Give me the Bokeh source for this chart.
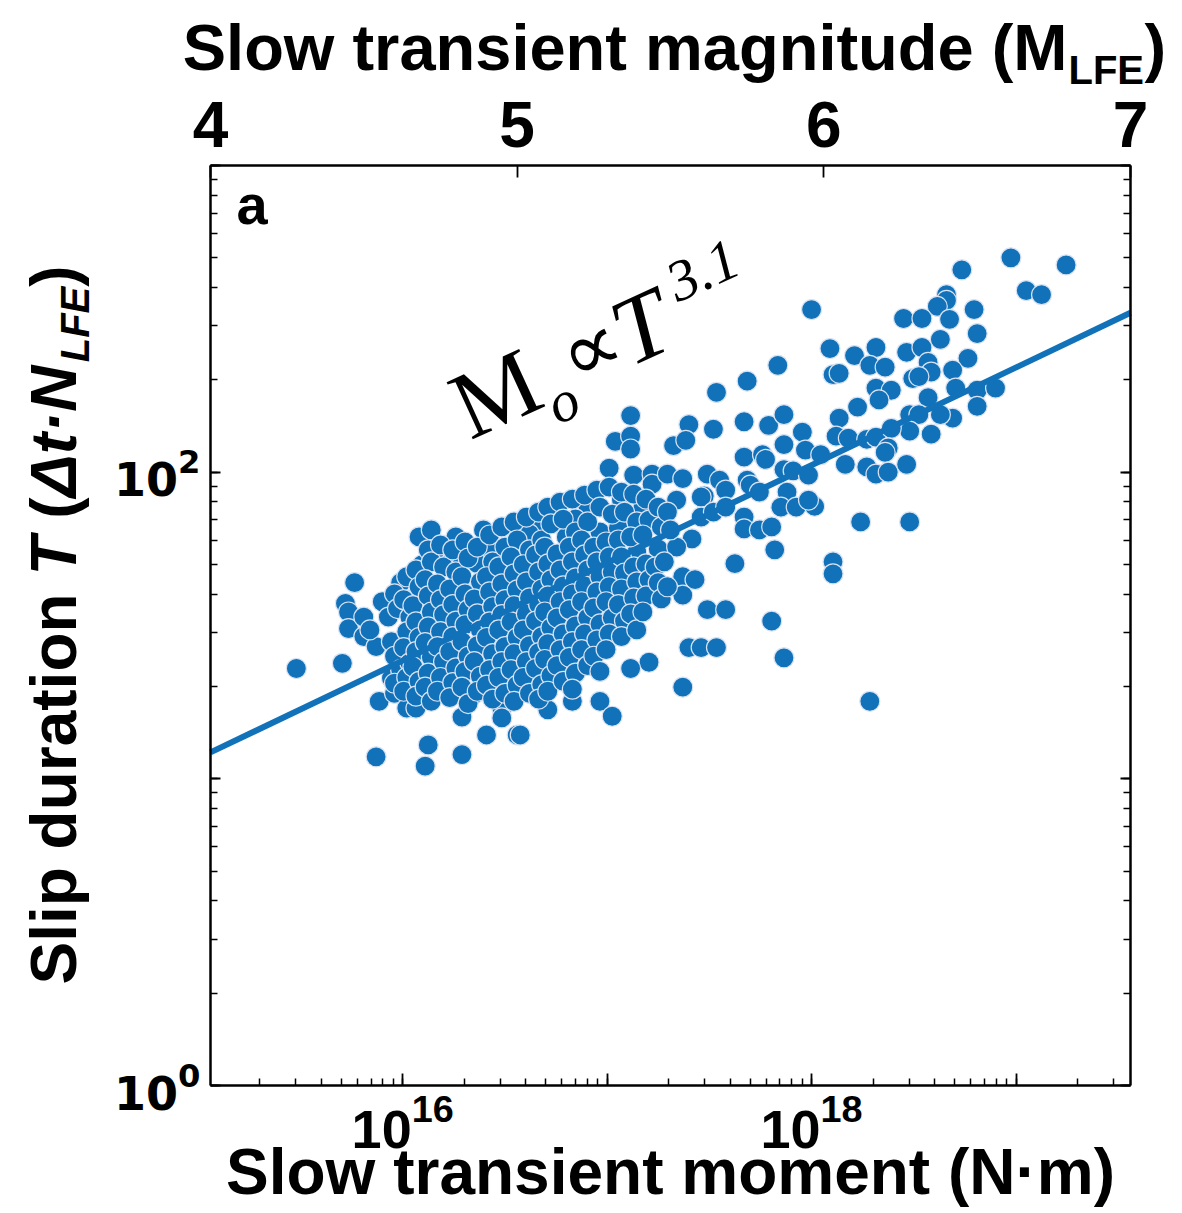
import math
import numpy as np
from bokeh.plotting import figure
from bokeh.models import (Range1d, LinearAxis, LogAxis, LogTicker, FixedTicker,
                          LinearScale, Label, CustomJSTickFormatter, ColumnDataSource)
from bokeh.embed import file_html
from bokeh.resources import INLINE

# ---------------- data ----------------
# magnitude M_LFE (top axis) and slip duration T
mw_left = [4.28, 4.43, 4.47, 4.44, 4.45, 4.45, 4.50, 4.50, 4.54, 4.52,
           4.56, 4.58, 4.62, 4.55, 4.60, 4.59, 4.64, 4.67, 4.54, 4.71,
           4.70, 4.82, 4.82, 4.90, 5.00, 4.95, 4.95, 4.86, 4.68, 4.72,
           4.80, 4.89, 4.91, 4.68, 4.69, 4.66, 4.76, 4.79, 4.82, 4.87,
           5.03, 5.05]
t_left = [22.9, 23.8, 43.6, 37.3, 35.0, 30.9, 33.7, 29.1, 27.0, 30.6,
          37.8, 33.7, 43.6, 17.9, 19.0, 21.3, 17.0, 17.0, 11.8, 12.9,
          11.0, 12.0, 15.9, 13.9, 13.9, 17.0, 15.8, 18.9, 61.5, 64.8,
          61.5, 64.8, 56.2, 46.2, 49.9, 38.6, 54.9, 52.1, 49.9, 50.3,
          63.8, 65.3]

mw_mid = [5.37, 5.32, 5.37, 5.37, 5.56, 5.64, 5.51, 5.55, 5.30, 5.38,
          5.44, 5.44, 5.49, 5.54, 5.62, 5.66, 5.68, 5.61, 5.52, 5.74,
          5.82, 5.87, 5.74, 5.80, 5.87, 5.75, 5.76, 5.88, 5.86, 5.91,
          5.74, 5.74, 5.79, 5.83, 5.84, 5.71, 5.57, 5.54, 5.58, 5.54,
          5.62, 5.68, 5.83, 5.56, 5.60, 5.65, 5.87, 5.54, 5.43, 5.37,
          5.27, 5.31, 5.18, 5.10, 5.01, 5.65, 5.23, 5.34, 5.41, 5.19,
          5.16, 5.06, 5.04, 5.27, 5.33, 5.39, 5.46, 5.52, 5.60,
          5.60, 5.64, 5.68, 5.79, 5.75]
t_mid = [153, 126, 131, 119, 143, 138, 122, 127, 103, 97.8,
         98.5, 91.4, 98.5, 95.3, 98.5, 94.2, 87.4, 83.6, 81.1, 146,
         142, 154, 112, 114, 123, 94.2, 90.7, 86.1, 76.9, 76.9,
         71.4, 65.3, 64.8, 66.3, 55.8, 50.3, 60.6, 45.6, 44.6, 39.7,
         35.6, 35.6, 32.7, 26.8, 26.8, 26.8, 24.8, 19.9, 24.0, 22.9,
         17.9, 16.0, 17.9, 16.8, 13.9, 182, 78.0, 81.1, 76.9, 70.4,
         61.5, 67.4, 62.9, 63.8, 65.8, 54.9, 56.2, 57.0, 83.0,
         71.4, 74.1, 76.9, 86.1, 198]

mw_upper = [5.96, 5.85, 6.61, 6.79, 6.45, 6.66, 6.71, 6.40, 6.40, 6.37,
            6.49, 6.26, 6.32, 6.41, 6.50, 6.38, 6.02, 6.10, 6.17, 6.15,
            6.20, 6.27, 6.32, 6.34, 6.35, 6.47, 6.03, 6.05, 6.29, 6.31,
            6.42, 6.17, 6.22, 6.18, 6.43, 6.34, 6.50, 6.56, 6.50, 6.11,
            6.05, 6.28, 6.31, 6.42, 6.38, 5.93, 6.04, 6.08, 6.14, 6.17,
            6.28, 6.35, 6.22, 5.81, 5.94, 5.99, 6.21, 6.20, 6.07, 6.14,
            6.17, 6.21, 6.27, 5.87, 5.90, 5.95, 5.97, 5.95, 6.12, 6.28,
            6.03, 6.03, 6.15]
t_upper = [339, 223, 500, 474, 457, 391, 379, 379, 363, 347,
           339, 317, 317, 315, 283, 271, 253, 240, 255, 223,
           220, 246, 255, 228, 212, 235, 208, 210, 202, 205,
           215, 188, 185, 172, 188, 175, 185, 188, 164, 163,
           150, 154, 154, 150, 154, 135, 131, 129, 128, 130,
           136, 133, 139, 110, 118, 114, 120, 116, 106, 104,
           98.5, 100, 106, 102, 101, 97.8, 77.4, 81.1, 68.8, 68.8,
           51.0, 46.6, 17.9]

mw_core = [4.60, 4.61, 4.59, 4.60, 4.62, 4.60,
           4.64, 4.63, 4.65, 4.64, 4.63, 4.65, 4.64, 4.63,
           4.67, 4.68, 4.66, 4.67, 4.68, 4.67, 4.66, 4.68, 4.67,
           4.71, 4.72, 4.70, 4.71, 4.72, 4.71, 4.70, 4.72, 4.71, 4.70, 4.72,
           4.75, 4.76, 4.74, 4.75, 4.76, 4.75, 4.74, 4.76, 4.75, 4.74,
           4.79, 4.80, 4.78, 4.79, 4.80, 4.79, 4.78, 4.80, 4.79, 4.78,
           4.83, 4.84, 4.82, 4.83, 4.84, 4.83, 4.82, 4.84, 4.83, 4.82, 4.84,
           4.87, 4.88, 4.86, 4.87, 4.88, 4.87, 4.86, 4.88, 4.87,
           4.91, 4.92, 4.90, 4.91, 4.92, 4.91, 4.90, 4.92, 4.91, 4.90, 4.92,
           4.95, 4.96, 4.94, 4.95, 4.96, 4.95, 4.94, 4.96, 4.95, 4.94, 4.96,
           4.99, 5.00, 4.98, 4.99, 5.00, 4.99, 4.98, 5.00, 4.99, 4.98, 5.00, 4.99,
           5.03, 5.04, 5.02, 5.03, 5.04, 5.03, 5.02, 5.04, 5.03, 5.02, 5.04,
           5.07, 5.08, 5.06, 5.07, 5.08, 5.07, 5.06, 5.08, 5.07, 5.06, 5.08, 5.07,
           5.10, 5.11, 5.09, 5.10, 5.11, 5.10, 5.09, 5.11, 5.10, 5.09, 5.11, 5.10,
           5.14, 5.15, 5.13, 5.14, 5.15, 5.14, 5.13, 5.15, 5.14, 5.13, 5.15,
           5.18, 5.19, 5.17, 5.18, 5.19, 5.18, 5.17, 5.19, 5.18, 5.17, 5.19, 5.18,
           5.22, 5.23, 5.21, 5.22, 5.23, 5.22, 5.21, 5.23, 5.22, 5.21, 5.23,
           5.26, 5.27, 5.25, 5.26, 5.27, 5.26, 5.25, 5.27, 5.26, 5.25, 5.27,
           5.30, 5.31, 5.29, 5.30, 5.31, 5.30, 5.29, 5.31, 5.30, 5.29,
           5.34, 5.35, 5.33, 5.34, 5.35, 5.34, 5.33, 5.35, 5.34,
           5.38, 5.39, 5.37, 5.38, 5.39, 5.38, 5.37, 5.39,
           5.42, 5.43, 5.41, 5.42, 5.43, 5.42, 5.41,
           5.46, 5.47, 5.45, 5.46, 5.47,
           5.49, 5.50, 5.48, 5.49]
t_core = [40.1, 35.9, 28.0, 25.1, 22.7, 20.5,
          45.6, 38.4, 33.7, 30.2, 26.8, 23.9, 21.4, 19.3,
          48.0, 42.3, 36.7, 32.5, 28.9, 26.0, 23.2, 20.8, 18.6,
          55.8, 51.0, 44.6, 39.5, 35.0, 31.3, 27.8, 24.9, 22.1, 19.9, 17.9,
          57.9, 49.1, 43.2, 38.4, 34.3, 30.2, 27.0, 24.1, 21.4, 19.3,
          55.8, 47.3, 41.6, 37.0, 32.7, 29.1, 26.0, 23.0, 20.6, 18.4,
          59.2, 52.5, 45.6, 40.1, 35.6, 31.8, 28.0, 25.1, 22.4, 19.9, 17.6,
          57.0, 43.9, 38.6, 34.5, 30.6, 27.2, 24.1, 21.6, 19.3,
          62.4, 51.0, 45.6, 40.7, 36.4, 32.5, 28.9, 25.6, 22.7, 20.2, 18.2,
          66.3, 57.0, 49.1, 43.2, 38.4, 34.3, 30.6, 27.0, 24.1, 21.4, 19.0,
          68.8, 60.1, 52.9, 46.6, 41.3, 36.7, 32.5, 28.9, 25.6, 22.7, 20.2, 17.9,
          71.4, 55.8, 49.9, 43.9, 38.9, 34.5, 30.6, 27.2, 24.1, 21.4, 19.0,
          74.1, 60.1, 53.7, 47.3, 41.6, 37.0, 32.7, 29.1, 25.8, 22.9, 20.3, 18.2,
          76.9, 67.8, 57.0, 50.2, 44.6, 39.5, 35.0, 31.1, 27.6, 24.5, 21.7, 19.3,
          79.9, 70.3, 54.1, 48.0, 42.6, 37.8, 33.5, 29.7, 26.4, 23.4, 20.8,
          81.7, 63.8, 57.0, 51.0, 45.2, 40.1, 35.6, 31.5, 28.0, 24.9, 22.1, 19.6,
          84.2, 68.8, 60.1, 53.7, 48.0, 42.6, 37.8, 33.5, 29.7, 26.4, 23.4,
          87.4, 76.9, 57.0, 51.0, 45.6, 40.7, 36.1, 32.0, 28.4, 25.1, 22.4,
          89.4, 73.0, 59.2, 52.9, 47.3, 42.3, 37.8, 33.5, 29.7, 26.4,
          86.1, 74.1, 60.1, 52.9, 46.9, 41.6, 37.0, 32.7, 29.1,
          84.8, 68.8, 61.5, 49.1, 43.9, 38.9, 34.5, 30.6,
          81.7, 69.8, 62.4, 50.2, 44.6, 39.5, 35.0,
          76.9, 66.3, 49.1, 43.6, 38.6,
          74.1, 64.8, 51.0, 42.3]

# fitted trend  M0 ~ T^3.1 (duration at the two frame edges)
fit_mw = [4.0, 7.0]
fit_t = [12.2, 331.0]

mag_range = [4.0, 7.0]        # top axis
dur_range = [1.0, 1000.0]     # left axis
MW_OFFSET = 9.06              # log10(M0) = 1.5*M + 9.06


def to_moment(m):
    return 10 ** (1.5 * np.asarray(m, dtype=float) + MW_OFFSET)


mw_all = mw_left + mw_mid + mw_upper + mw_core
t_all = t_left + t_mid + t_upper + t_core
src = ColumnDataSource(dict(moment=to_moment(mw_all), duration=t_all))

# ---------------- layout (canvas pixels) ----------------
W, H = 1180, 1210
BOX_L, BOX_R, BOX_T, BOX_B = 210, 1130, 165, 1085
x0, x1 = [float(v) for v in to_moment(mag_range)]
lx0, lx1 = math.log10(x0), math.log10(x1)
ly0, ly1 = math.log10(dur_range[0]), math.log10(dur_range[1])
dx = (BOX_R - BOX_L) / (lx1 - lx0)
dy = (BOX_B - BOX_T) / (ly1 - ly0)
xr = Range1d(10 ** (lx0 - BOX_L / dx), 10 ** (lx1 + (W - BOX_R) / dx))
yr = Range1d(10 ** (ly0 - (H - BOX_B) / dy), 10 ** (ly1 + BOX_T / dy))
dm = (BOX_R - BOX_L) / (mag_range[1] - mag_range[0])
mr = Range1d(mag_range[0] - BOX_L / dm, mag_range[1] + (W - BOX_R) / dm)

BLUE = "#1272b9"
FONT = "Liberation Sans"

p = figure(width=W, height=H, x_axis_type="log", y_axis_type="log",
           x_axis_location=None, y_axis_location=None,
           x_range=xr, y_range=yr, output_backend="svg", toolbar_location=None,
           min_border=0)
p.title.visible = False
p.background_fill_color = "white"
p.border_fill_color = "white"
p.outline_line_color = None
p.xgrid.visible = False
p.ygrid.visible = False

blank = CustomJSTickFormatter(code="return ''")


def style_axis(ax, major=12, minor=7):
    ax.axis_line_color = "black"
    ax.axis_line_width = 2.5
    ax.major_tick_in = major
    ax.major_tick_out = 0
    ax.minor_tick_in = minor
    ax.minor_tick_out = 0
    ax.major_tick_line_color = "black"
    ax.major_tick_line_width = 1.8
    ax.minor_tick_line_color = "black"
    ax.minor_tick_line_width = 1.5
    ax.major_label_text_color = "black"
    ax.major_label_text_font_style = "bold"


bottom = LogAxis(ticker=LogTicker(desired_num_ticks=6, num_minor_ticks=10),
                 fixed_location=dur_range[0], bounds=(x0, x1),
                 major_label_overrides={1e15: "", 1e17: "", 1e19: ""})
style_axis(bottom)
bottom.major_label_text_font = FONT
bottom.major_label_text_font_size = "54px"
bottom.major_label_standoff = 8
p.add_layout(bottom, "below")

left = LogAxis(ticker=LogTicker(desired_num_ticks=4, num_minor_ticks=10),
               fixed_location=x0, bounds=tuple(dur_range),
               major_label_overrides={10.0: "", 1000.0: ""})
style_axis(left, major=10, minor=7)
left.major_label_text_font = "DejaVu Sans"
left.major_label_text_font_size = "46px"
left.major_label_standoff = 10
p.add_layout(left, "left")

right = LogAxis(ticker=LogTicker(desired_num_ticks=4, num_minor_ticks=10),
                fixed_location=x1, bounds=tuple(dur_range), formatter=blank)
style_axis(right, major=10, minor=7)
p.add_layout(right, "right")

p.extra_x_ranges = {"mw": mr}
p.extra_x_scales = {"mw": LinearScale()}
top = LinearAxis(x_range_name="mw", ticker=FixedTicker(ticks=[4, 5, 6, 7]),
                 fixed_location=dur_range[1], bounds=tuple(mag_range))
style_axis(top, major=12, minor=0)
top.minor_tick_line_color = None
top.major_label_text_font = FONT
top.major_label_text_font_size = "64px"
top.major_label_standoff = 19
p.add_layout(top, "above")

# scatter + fit line
p.scatter("moment", "duration", source=src, size=20, fill_color=BLUE,
          line_color="#d9e3f3", line_width=1.2)
p.line(to_moment(fit_mw), fit_t, line_color=BLUE, line_width=6)

BASE_FIX = 0.385   # lift so that the requested point is the glyph baseline


def lab(text, x, y, xo, yo, size, font=FONT, style="bold", align="left", angle=0.0):
    up = BASE_FIX * size
    xo = xo - up * math.sin(angle)
    yo = yo + up * math.cos(angle)
    p.add_layout(Label(x=x, y=y, x_offset=xo, y_offset=yo, text=text,
                       text_font=font, text_font_style=style,
                       text_font_size=f"{size}px", text_align=align,
                       text_baseline="alphabetic", angle=angle, text_color="black"))


YB, YT = dur_range
XMID = math.sqrt(x0 * x1)

# bottom axis title
lab("Slow transient moment (N\u00b7m)", XMID, YB, 0, -111, 64, align="center")

# top axis title with subscript
lab("Slow transient magnitude (M", x0, YT, 857, 93, 65, align="right")
lab("LFE", x0, YT, 858, 80, 40)
lab(")", x0, YT, 934, 93, 65)

# left axis title (rotated), composed of pieces
F = 64
pieces = [("Slip duration", "bold", F, (6.112 + 0.278) * F, 0),
          ("T", "bold italic", F, (0.611 + 0.278) * F, 0),
          ("(", "bold", F, 0.333 * F, 0),
          ("\u0394t\u00b7N", "bold italic", F, 2.110 * F, 0),
          ("LFE", "bold italic", 40, 1.889 * 40, 12),
          (")", "bold", F, 0.333 * F, 0)]
pos = 101
for txt, sty, sz, w, sub in pieces:
    lab(txt, x0, YB, -132 + sub, pos, sz, style=sty, angle=math.pi / 2)
    pos += w

# panel letter
lab("a", x0, YT, 26, -61, 56)

# annotation  M_o ∝ T^3.1, rotated along the trend
ANG = math.radians(24.6)
ax_, ay_ = float(to_moment(4.853)), 123.0
ann = [("M", 96, "normal", 0, 0),
       ("o", 58, "italic", 86, -21),
       ("\u221d", 84, "normal", 118, 6),
       ("T", 96, "italic", 176, 0),
       ("3.1", 58, "italic", 246, 40)]
for txt, sz, sty, along, perp in ann:
    xo = along * math.cos(ANG) - perp * math.sin(ANG)
    yo = along * math.sin(ANG) + perp * math.cos(ANG)
    lab(txt, ax_, ay_, xo, yo, sz, font="Liberation Serif", style=sty, angle=ANG)

open("out.html", "w").write(file_html(p, INLINE))
